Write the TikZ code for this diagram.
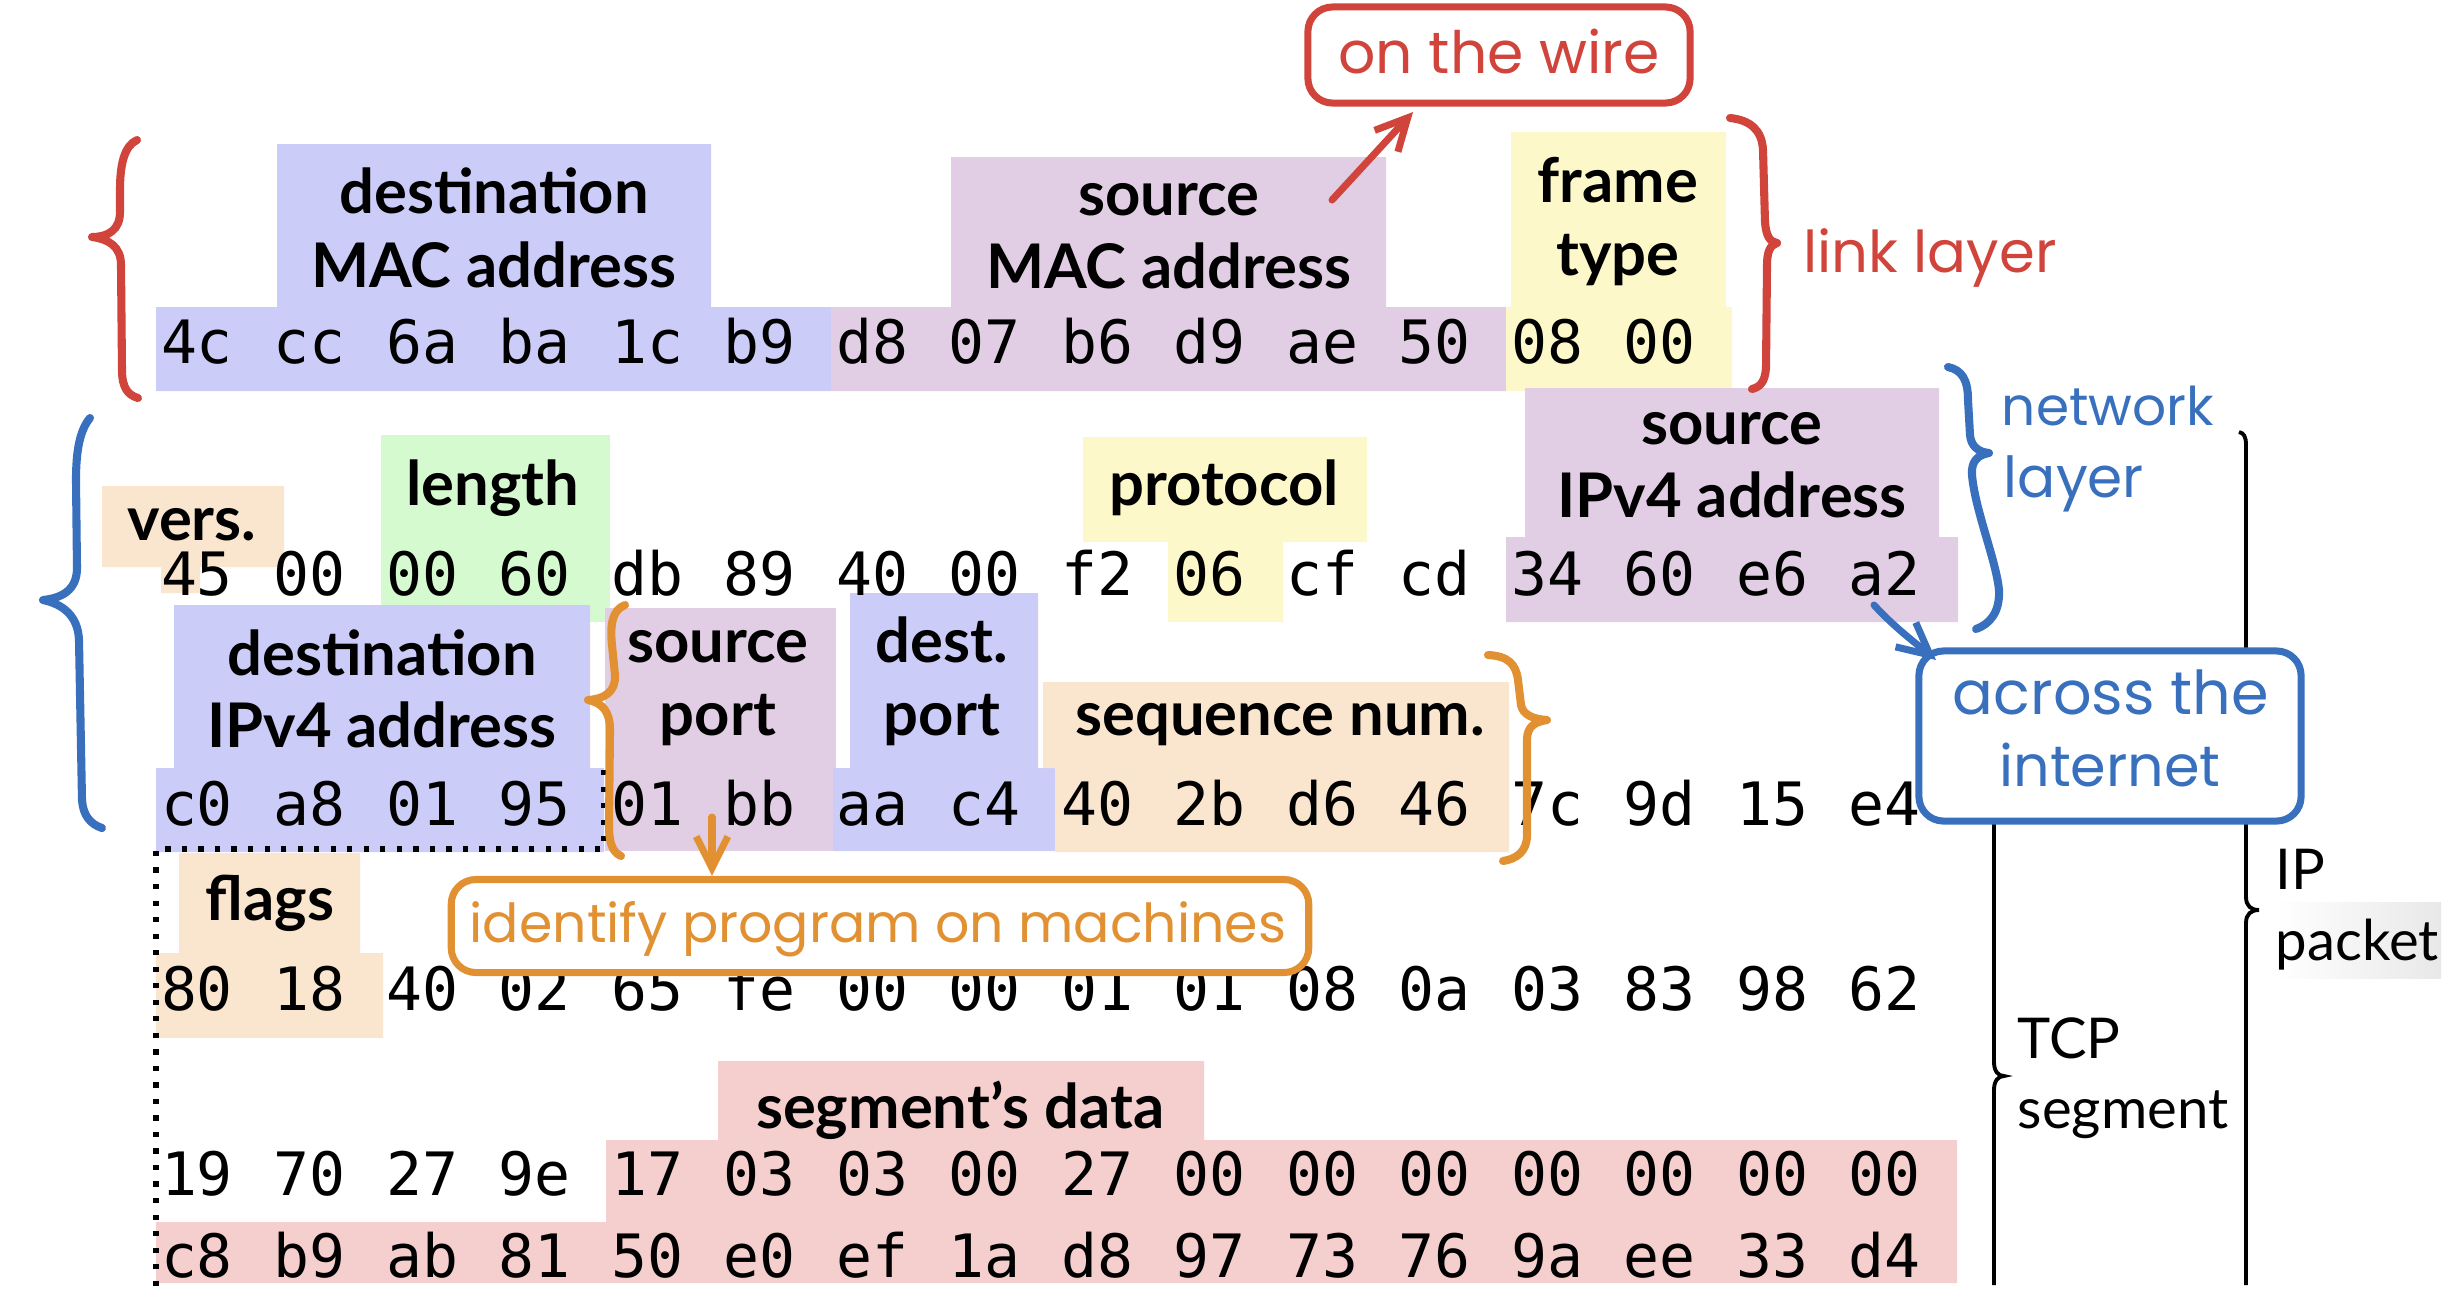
\documentclass[tikz,border=0pt]{standalone}
\usepackage{fontspec}
\setmainfont{Lato}
\newfontfamily\hexfont{DejaVu Sans Mono}
\newfontfamily\handfont{Poppins}
\usetikzlibrary{arrows.meta}
\definecolor{fblue}{RGB}{204,204,248}
\definecolor{fpurple}{RGB}{226,206,228}
\definecolor{fyellow}{RGB}{252,248,202}
\definecolor{fpeach}{RGB}{250,230,206}
\definecolor{fgreen}{RGB}{214,250,208}
\definecolor{fpink}{RGB}{245,206,206}
\definecolor{cred}{RGB}{208,68,60}
\definecolor{cblue}{RGB}{56,112,190}
\definecolor{corange}{RGB}{226,145,50}
\newcommand\hw[2]{\resizebox{#1mm}{!}{\handfont #2}}
\begin{document}
\begin{tikzpicture}[x=0.01cm,y=-0.01cm,
  hex/.style={font=\hexfont\fontsize{17}{20}\selectfont, anchor=base, inner sep=0pt},
  lbl/.style={font=\bfseries\fontsize{17.5}{21}\selectfont, anchor=base, inner sep=0pt},
  side/.style={font=\fontsize{16}{19}\selectfont, anchor=base west, inner sep=0pt},
  hand/.style={inner sep=0pt, anchor=base},
  handbox/.style={rounded corners=7pt, line width=2pt, fill=white, inner sep=0pt},
  hbrace/.style={line width=2.3pt, line cap=round, line join=round},
  bbrace/.style={line width=1.1pt},
  harrow/.style={line width=2pt, line cap=round, -{Straight Barb[length=9pt,width=9pt]}},
  dots/.style={line width=1.5pt, dash pattern=on 1.5pt off 3.2pt}
]
\useasboundingbox (0,0) rectangle (2454,1308);
% ---------- coloured fields ----------
% row 1
\fill[fblue] (277,144) rectangle (711,307) (156,307) rectangle (831,391);
\fill[fpurple] (951,157) rectangle (1386,307) (831,307) rectangle (1506,391);
\fill[fyellow] (1511,132) rectangle (1726,307) (1506,307) rectangle (1732,391);
% row 2
\fill[fpeach] (102,486) rectangle (284,567) (161,567) rectangle (200,593);
\fill[fgreen] (381,435) rectangle (610,622);
\fill[fyellow] (1083,437) rectangle (1367,542) (1168,542) rectangle (1283,622);
\fill[fpurple] (1525,388) rectangle (1939,537) (1506,537) rectangle (1958,622);
% row 3
\fill[fblue] (174,605) rectangle (590,768) (156,768) rectangle (604,852);
\fill[fpurple] (605,608) rectangle (836,851);
\fill[fblue] (850,593) rectangle (1038,768) (833,768) rectangle (1055,851);
\fill[fpeach] (1043,682) rectangle (1509,768) (1055,768) rectangle (1509,852);
% row 4
\fill[fpeach] (179,853) rectangle (360,953) (156,953) rectangle (383,1038);
% rows 5-6
\fill[fpink] (718,1061) rectangle (1204,1140) (606,1140) rectangle (1957,1222) (156,1222) rectangle (1957,1283);
\shade[left color=white, right color=black!9] (2276,902) rectangle (2441,978);
% ---------- hex bytes ----------
\foreach \b [count=\i from 0] in {4c,cc,6a,ba,1c,b9,d8,07,b6,d9,ae,50,08,00}
  \node[hex] (ra\i) at ({197+112.5*\i},363) {\b};
\foreach \b [count=\i from 0] in {45,00,00,60,db,89,40,00,f2,06,cf,cd,34,60,e6,a2}
  \node[hex] (rb\i) at ({197+112.5*\i},595) {\b};
\foreach \b [count=\i from 0] in {c0,a8,01,95,01,bb,aa,c4,40,2b,d6,46,7c,9d,15,e4}
  \node[hex] (rc\i) at ({197+112.5*\i},825) {\b};
\foreach \b [count=\i from 0] in {80,18,40,02,65,fe,00,00,01,01,08,0a,03,83,98,62}
  \node[hex] (rd\i) at ({197+112.5*\i},1010) {\b};
\foreach \b [count=\i from 0] in {19,70,27,9e,17,03,03,00,27,00,00,00,00,00,00,00}
  \node[hex] (re\i) at ({197+112.5*\i},1195) {\b};
\foreach \b [count=\i from 0] in {c8,b9,ab,81,50,e0,ef,1a,d8,97,73,76,9a,ee,33,d4}
  \node[hex] (rf\i) at ({197+112.5*\i},1277) {\b};
% ---------- field labels ----------
\node[lbl] (dm1) at (494,213) {destination};
\node[lbl] (dm2) at (494,287) {MAC address};
\node[lbl] (sm1) at (1169,215) {source};
\node[lbl] (sm2) at (1169,288) {MAC address};
\node[lbl] (ft1) at (1618,202) {frame};
\node[lbl] (ft2) at (1618,275) {type};
\node[lbl] (vers) at (192,540) {vers.};
\node[lbl] (len) at (493,505) {length};
\node[lbl] (proto) at (1224,505) {protocol};
\node[lbl] (si1) at (1732,444) {source};
\node[lbl] (si2) at (1732,517) {IPv4 address};
\node[lbl] (di1) at (382,675) {destination};
\node[lbl] (di2) at (382,747) {IPv4 address};
\node[lbl] (sp1) at (718,662) {source};
\node[lbl] (sp2) at (718,735) {port};
\node[lbl] (dp1) at (942,662) {dest.};
\node[lbl] (dp2) at (942,735) {port};
\node[lbl] (seq) at (1280,735) {sequence num.};
\node[lbl] (flags) at (270,920) {flags};
\node[lbl] (data) at (960,1128) {segment’s data};
% ---------- TCP segment outline ----------
\draw[dots] (604,770) -- (604,849) -- (156,849) -- (156,1290);
% ---------- black braces ----------
\draw[bbrace] (1994,700) -- (1994,1062) .. controls (1994,1071) and (1998,1076) .. (2004,1076)
  .. controls (1998,1076) and (1994,1081) .. (1994,1090) -- (1994,1285);
\draw[bbrace] (2239,432) .. controls (2244,433) and (2246,437) .. (2246,445) -- (2246,897)
  .. controls (2246,906) and (2251,910) .. (2259,910) .. controls (2251,910) and (2246,914) .. (2246,923) -- (2246,1285);
\node[side] (tcp1) at (2017,1058) {TCP};
\node[side] (tcp2) at (2017,1128) {segment};
\node[side] (ip1) at (2275,889) {IP};
\node[side] (ip2) at (2275,960) {packet};
% ---------- red annotations ----------
\draw[hbrace, cred] (137,140) .. controls (124,146) and (120,165) .. (120,190) -- (120,212)
  .. controls (120,230) and (108,237) .. (92,237) .. controls (108,239) and (121,246) .. (121,265)
  -- (122,370) .. controls (122,388) and (128,395) .. (138,398);
\draw[hbrace, cred] (1730,118) .. controls (1750,120) and (1762,130) .. (1763,150) -- (1765,222)
  .. controls (1766,236) and (1770,242) .. (1777,243) .. controls (1770,245) and (1767,252) .. (1767,265)
  -- (1766,368) .. controls (1765,382) and (1760,387) .. (1752,389);
\node[handbox, draw=cred, minimum width=3.82cm, minimum height=0.96cm] (wirebox) at (1499,55) {};
\node[hand, text=cred] (wiretxt) at (1499,73) {\hw{32.1}{on the wire}};
\coordinate (wireA) at (1332,200);
\coordinate (wireB) at (1413,112);
\draw[harrow, cred] (wireA) -- (wireB);
\node[hand, text=cred] (linktxt) at (1930,272) {\hw{25.3}{link layer}};
% ---------- blue annotations ----------
\draw[hbrace, cblue] (90,418) .. controls (80,430) and (76,450) .. (76,480) -- (77,568)
  .. controls (77,590) and (62,598) .. (43,600) .. controls (62,604) and (78,615) .. (79,640)
  -- (82,800) .. controls (83,815) and (90,824) .. (102,828);
\draw[hbrace, cblue] (1948,367) .. controls (1962,370) and (1968,380) .. (1968,400) -- (1970,435)
  .. controls (1971,446) and (1978,452) .. (1989,453) .. controls (1977,455) and (1971,462) .. (1972,475)
  .. controls (1975,510) and (1996,560) .. (1999,590) .. controls (2000,612) and (1990,624) .. (1976,629);
\node[hand, text=cblue] (net1) at (2108,425) {\hw{21.2}{network}};
\node[hand, text=cblue] (net2) at (2074,497) {\hw{14.0}{layer}};
\node[handbox, draw=cblue, minimum width=3.82cm, minimum height=1.70cm] (netbox) at (2110,736) {};
\node[hand, text=cblue] (acr1) at (2111,714) {\hw{31.6}{across the}};
\node[hand, text=cblue] (acr2) at (2110,786) {\hw{22.1}{internet}};
\coordinate (netA) at (1874,605);
\coordinate (netB) at (1936,660);
\draw[harrow, cblue] (netA) .. controls (1895,628) and (1918,645) .. (netB);
% ---------- orange annotations ----------
\draw[hbrace, corange] (625,605) .. controls (612,610) and (610,625) .. (612,645) -- (615,675)
  .. controls (616,692) and (604,699) .. (588,700) .. controls (603,703) and (610,712) .. (610,730)
  -- (609,825) .. controls (609,842) and (612,852) .. (621,856);
\draw[hbrace, corange] (1488,655) .. controls (1508,656) and (1516,664) .. (1518,680) -- (1521,705)
  .. controls (1523,715) and (1533,719) .. (1547,720) .. controls (1534,722) and (1527,727) .. (1527,740)
  -- (1527,835) .. controls (1527,852) and (1516,859) .. (1503,861);
\node[handbox, draw=corange, minimum width=8.57cm, minimum height=0.93cm] (progbox) at (880,926) {};
\node[hand, text=corange] (progtxt) at (878,942) {\hw{81.6}{identify program on machines}};
\coordinate (portA) at (712,817);
\draw[harrow, corange] (portA) -- (progbox.north -| portA);
\end{tikzpicture}
\end{document}
